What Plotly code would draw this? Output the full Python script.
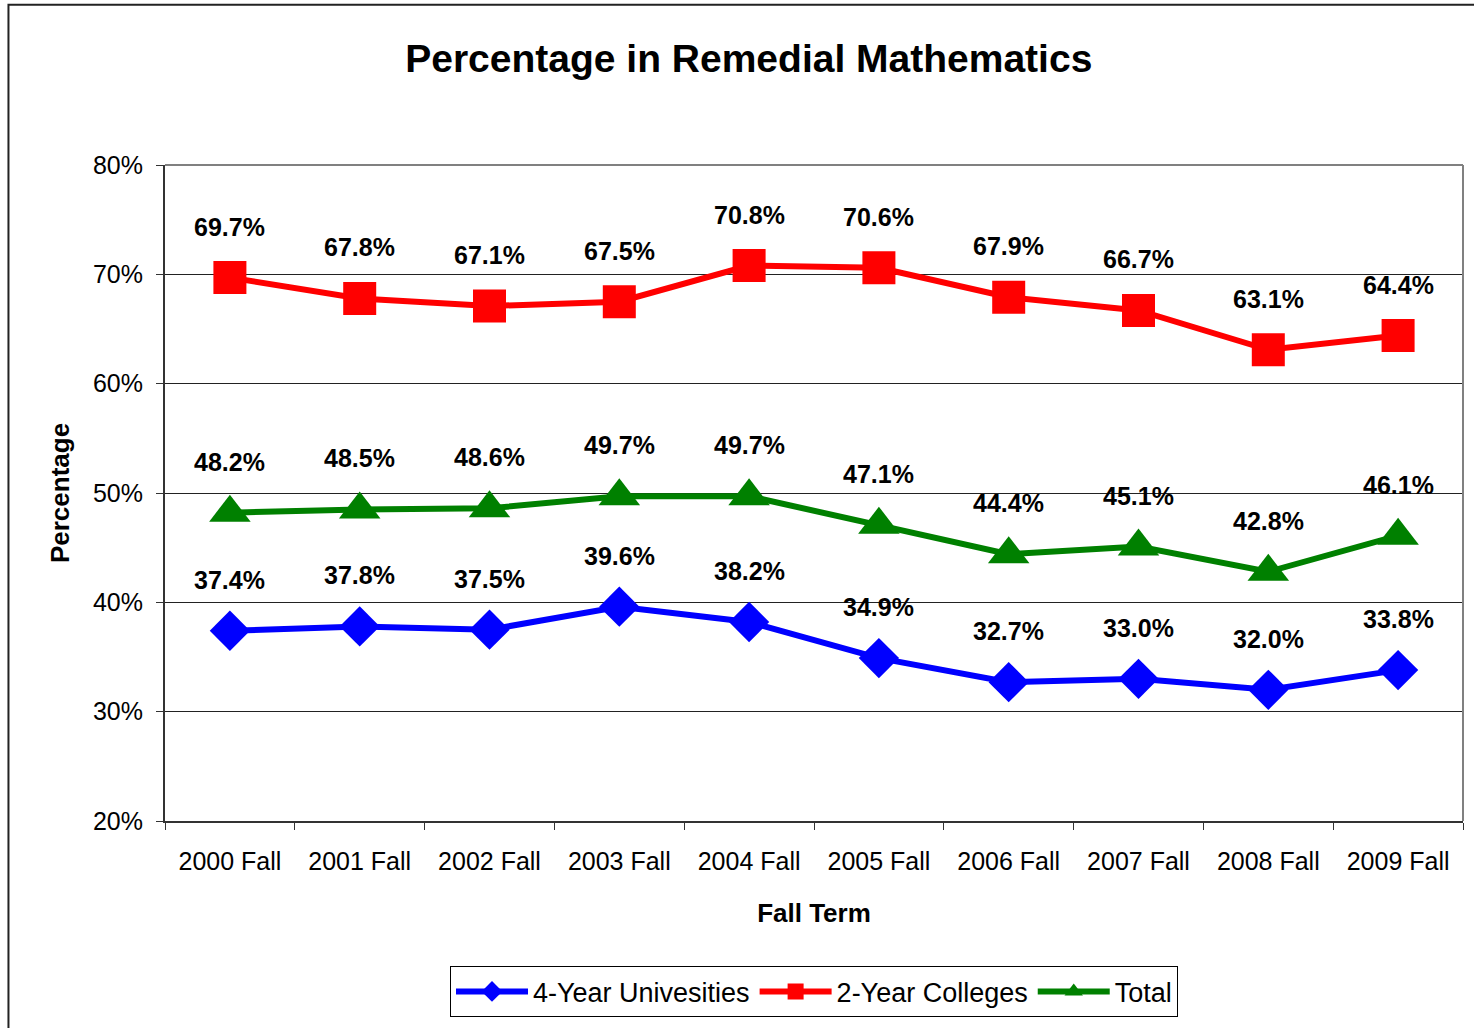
import plotly.graph_objects as go

terms = ["2000 Fall", "2001 Fall", "2002 Fall", "2003 Fall", "2004 Fall",
         "2005 Fall", "2006 Fall", "2007 Fall", "2008 Fall", "2009 Fall"]
four_year = [37.4, 37.8, 37.5, 39.6, 38.2, 34.9, 32.7, 33.0, 32.0, 33.8]
two_year = [69.7, 67.8, 67.1, 67.5, 70.8, 70.6, 67.9, 66.7, 63.1, 64.4]
total = [48.2, 48.5, 48.6, 49.7, 49.7, 47.1, 44.4, 45.1, 42.8, 46.1]
y_ticks = [20, 30, 40, 50, 60, 70, 80]

FONT = "Liberation Sans, Arial, sans-serif"

fig = go.Figure()
series = [
    ("4-Year Univesities", four_year, "#0000FF", "diamond", 31),
    ("2-Year Colleges", two_year, "#FF0000", "square", 33),
    ("Total", total, "#008000", "triangle-up", 36),
]
for name, vals, color, sym, size in series:
    fig.add_trace(go.Scatter(
        x=terms, y=vals, name=name, mode="lines+markers",
        line=dict(color=color, width=6),
        marker=dict(symbol=sym, size=size, color=color),
    ))
    for t, v in zip(terms, vals):
        fig.add_annotation(x=t, y=v, text=f"<b>{v:.1f}%</b>", showarrow=False,
                           yshift=51, font=dict(family=FONT, size=25, color="black"),
                           yanchor="middle")

# outer chart border
fig.add_shape(type="rect", xref="paper", yref="paper",
              x0=-0.1206, x1=1.02, y0=-0.32, y1=1.2443,
              line=dict(color="#222222", width=2), fillcolor="rgba(0,0,0,0)", layer="below")
# top and right plot borders (gray)
fig.add_shape(type="line", xref="paper", yref="paper", x0=0, x1=1, y0=1, y1=1,
              line=dict(color="#808080", width=2))
fig.add_shape(type="line", xref="paper", yref="paper", x0=1, x1=1, y0=0, y1=1,
              line=dict(color="#808080", width=2))

fig.update_layout(
    width=1474, height=1028,
    margin=dict(l=165, r=11, t=165, b=204),
    paper_bgcolor="white", plot_bgcolor="white",
    font=dict(family=FONT, size=25, color="black"),
    title=dict(text="<b>Percentage in Remedial Mathematics</b>", x=0.508, xanchor="center",
               y=1 - 58 / 1028, yanchor="middle", font=dict(family=FONT, size=39)),
    showlegend=True,
    legend=dict(orientation="h", x=0.5, xanchor="center", y=-0.2216, yanchor="top",
                bordercolor="black", borderwidth=1, font=dict(family=FONT, size=27),
                itemwidth=72, tracegroupgap=0),
    xaxis=dict(type="category", range=[-0.5, 9.5], showline=True, linecolor="#333333", linewidth=2,
               ticks="outside", ticklen=7, tickcolor="#333333", tickson="boundaries",
               ticklabelstandoff=17,
               showgrid=False, tickfont=dict(family=FONT, size=25),
               title=dict(text="<b>Fall Term</b>", font=dict(family=FONT, size=26), standoff=30)),
    yaxis=dict(range=[20, 80], tickvals=y_ticks, ticktext=[f"{v}%" for v in y_ticks],
               showline=True, linecolor="#333333", linewidth=2, ticks="outside", ticklen=7,
               tickcolor="#333333", showgrid=True, gridcolor="#222222", gridwidth=1,
               ticklabelstandoff=8,
               zeroline=False, tickfont=dict(family=FONT, size=25),
               title=dict(text="<b>Percentage</b>", font=dict(family=FONT, size=26), standoff=16)),
)

fig.write_html("out.html", config={"displayModeBar": False},
               post_script="document.body.style.margin='0';document.body.style.overflow='hidden';")
